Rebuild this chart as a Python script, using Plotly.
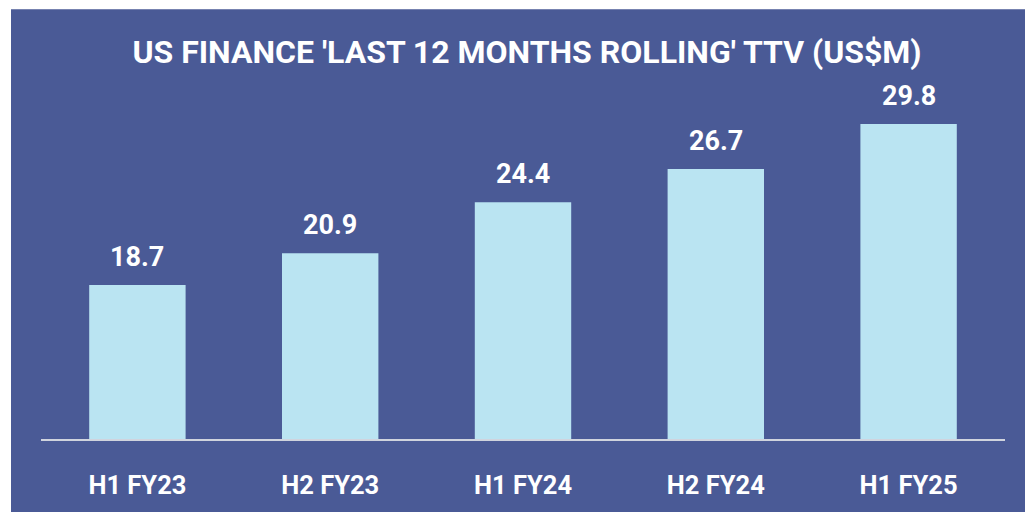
import plotly.graph_objects as go

categories = ["H1 FY23", "H2 FY23", "H1 FY24", "H2 FY24", "H1 FY25"]
values = [18.7, 20.9, 24.4, 26.7, 29.8]
value_labels = ["18.7", "20.9", "24.4", "26.7", "29.8"]

BG = "#4a5a96"
BAR = "#bae4f2"
FONT = "Roboto"

W, H = 1025, 512
L, R, T, B = 41, 20, 70, 71
pw, ph = W - L - R, H - T - B

fig = go.Figure()
fig.add_trace(go.Bar(
    x=categories, y=values,
    marker=dict(color=BAR, line=dict(width=0)),
    hoverinfo="skip",
))

for c, v, t in zip(categories, values, value_labels):
    fig.add_annotation(x=c, y=v, text="<b>%s</b>" % t, showarrow=False,
                       yanchor="bottom", yshift=10,
                       font=dict(family=FONT, size=27, color="white"))

fig.add_shape(type="rect", xref="paper", yref="paper",
              x0=(11 - L) / pw, x1=(W + 5 - L) / pw,
              y0=(H - B - H - 5) / ph, y1=(H - B - 9) / ph,
              fillcolor=BG, line=dict(width=0), layer="below")

fig.update_layout(
    width=W, height=H,
    margin=dict(l=L, r=R, t=T, b=B),
    paper_bgcolor="white", plot_bgcolor=BG,
    bargap=0.5,
    showlegend=False,
    hovermode=False,
    title=dict(text="<b>US FINANCE 'LAST 12 MONTHS ROLLING' TTV (US$M)</b>",
               x=527 / W, xanchor="center", y=1 - 52 / H, yanchor="middle",
               font=dict(family=FONT, size=32, color="white")),
    xaxis=dict(showline=True, linecolor="#d0d4de", linewidth=2,
               showgrid=False, ticks="", ticklabelstandoff=22,
               tickfont=dict(family=FONT, size=25.5, color="white"),
               tickprefix="<b>", ticksuffix="</b>"),
    yaxis=dict(range=[8.1, 8.1 + ph / 14.6], visible=False, showgrid=False),
)

fig.write_html("out.html", config={"displayModeBar": False},
               post_script="document.body.style.margin='0';document.body.style.overflow='hidden';")
